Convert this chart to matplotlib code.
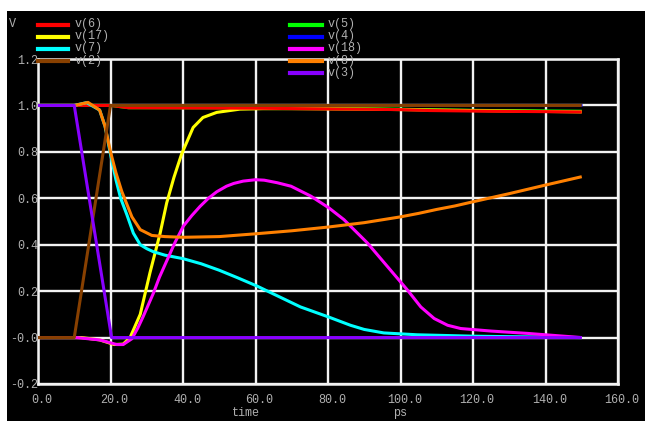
import matplotlib
matplotlib.use("Agg")
import matplotlib.pyplot as plt
from matplotlib.patches import Rectangle
from matplotlib.lines import Line2D
from matplotlib.transforms import ScaledTranslation

# ---------------- data ----------------
t_v6 = [0, 20, 25, 60, 80, 100, 108, 125, 150]
v_v6 = [1.0, 1.0, 0.99, 0.988, 0.985, 0.982, 0.978, 0.975, 0.972]

t_v5 = [0, 20, 25, 60, 80, 100, 108, 125, 150]
v_v5 = [1.0, 1.0, 0.99, 0.989, 0.987, 0.984, 0.981, 0.978, 0.975]

t_v4 = [0, 150]
v_v4 = [1.0, 1.0]

t_v17 = [0, 12, 17, 21, 23.5, 25.4, 28.2, 30.9, 33.7, 35.5, 37.5, 39.6, 42.8,
         45.5, 49.3, 55.7, 62, 70, 90, 110, 150]
v_v17 = [0.0, 0.0, -0.01, -0.03, -0.028, 0.0, 0.1, 0.28, 0.45, 0.58, 0.69, 0.79,
         0.905, 0.948, 0.97, 0.984, 0.986, 0.986, 0.984, 0.98, 0.972]

t_v7 = [0, 10, 13.4, 17, 18.5, 20, 21.5, 22.8, 24.5, 26.3, 28.2, 30, 31.8, 35,
        40, 45, 50, 55, 60.4, 66, 72.4, 80.1, 86.2, 90, 95.4, 104.6, 120, 150]
v_v7 = [1.0, 1.0, 1.012, 0.98, 0.91, 0.79, 0.68, 0.6, 0.53, 0.45, 0.40, 0.383,
        0.37, 0.355, 0.34, 0.318, 0.29, 0.258, 0.222, 0.18, 0.132, 0.089, 0.053,
        0.035, 0.02, 0.012, 0.006, 0.0]

t_v2 = [0, 10, 20, 150]
v_v2 = [0.0, 0.0, 1.0, 1.0]

t_v18 = [0, 10.6, 17, 21.7, 23.5, 25.9, 27.5, 29, 31.8, 33.5, 35.5, 37.8, 40.1,
         42.4, 44.7, 47, 49.3, 52, 54, 56.6, 60, 62.4, 66, 69.8, 75.3, 80.3,
         84.4, 90.9, 96.4, 101.9, 105.6, 109.3, 113, 116.6, 125, 135, 145, 150]
v_v18 = [0.0, 0.0, -0.01, -0.03, -0.03, -0.005, 0.04, 0.09, 0.19, 0.26, 0.33,
         0.41, 0.48, 0.525, 0.565, 0.6, 0.628, 0.652, 0.664, 0.674, 0.68, 0.678,
         0.667, 0.652, 0.609, 0.558, 0.508, 0.407, 0.306, 0.205, 0.132, 0.082,
         0.053, 0.039, 0.028, 0.018, 0.006, 0.0]

t_v8 = [0, 10, 13.8, 17, 18.5, 20, 21.5, 23.1, 25.9, 28.2, 31.4, 35, 40, 50, 60,
        70, 80, 90, 100, 105, 110, 115, 120, 130, 140, 150]
v_v8 = [1.0, 1.0, 1.013, 0.98, 0.91, 0.80, 0.71, 0.63, 0.52, 0.465, 0.44, 0.435,
        0.432, 0.435, 0.447, 0.46, 0.476, 0.495, 0.52, 0.535, 0.552, 0.567,
        0.585, 0.62, 0.657, 0.693]

t_v3 = [0, 10, 20.3, 150]
v_v3 = [1.0, 1.0, 0.0, 0.0]

x_ticks = [0, 20, 40, 60, 80, 100, 120, 140, 160]
x_labels = ["0.0", "20.0", "40.0", "60.0", "80.0", "100.0", "120.0", "140.0", "160.0"]
y_ticks = [-0.2, 0.0, 0.2, 0.4, 0.6, 0.8, 1.0, 1.2]
y_labels = ["-0.2", "-0.0", "0.2", "0.4", "0.6", "0.8", "1.0", "1.2"]

# ---------------- figure ----------------
W, H = 645, 421
fig = plt.figure(figsize=(W / 100, H / 100), dpi=100)
fig.patch.set_facecolor("white")
fig.patches.append(Rectangle((7 / W, 0), (W - 7) / W, (H - 11) / H,
                             transform=fig.transFigure, facecolor="black",
                             edgecolor="none", zorder=-10))

ax_l, ax_r, ax_t, ax_b = 38, 618, 59, 384
ax = fig.add_axes([ax_l / W, (H - ax_b) / H, (ax_r - ax_l) / W, (ax_b - ax_t) / H])
ax.set_facecolor("black")
ax.set_xlim(0, 160)
ax.set_ylim(-0.2, 1.2)

txt_col = "#b0b0b0"
font = "Liberation Mono"
fs = 8.5

ax.set_xticks(x_ticks)
ax.set_xticklabels(x_labels)
ax.set_yticks(y_ticks)
ax.set_yticklabels(y_labels)
ax.tick_params(length=0, colors=txt_col, labelsize=fs)
ax.tick_params(axis="y", pad=0)
ax.tick_params(axis="x", pad=7)
for lab in ax.get_xticklabels() + ax.get_yticklabels():
    lab.set_fontfamily(font)
for lab in ax.get_xticklabels():
    lab.set_transform(lab.get_transform() + ScaledTranslation(4 / 100, 0, fig.dpi_scale_trans))

ax.grid(True, color="#f2f2f2", linewidth=1.7, zorder=0)
ax.set_axisbelow(True)
for s in ax.spines.values():
    s.set_color("#f2f2f2")
    s.set_linewidth(1.8)

series = [
    ("v(4)", t_v4, v_v4, "#0000ff"),
    ("v(5)", t_v5, v_v5, "#00ff00"),
    ("v(17)", t_v17, v_v17, "#ffff00"),
    ("v(6)", t_v6, v_v6, "#ff0000"),
    ("v(7)", t_v7, v_v7, "#00ffff"),
    ("v(18)", t_v18, v_v18, "#ff00ff"),
    ("v(8)", t_v8, v_v8, "#ff8000"),
    ("v(2)", t_v2, v_v2, "#884000"),
    ("v(3)", t_v3, v_v3, "#8800ff"),
]
lw = 2.2
for i, (name, t, v, c) in enumerate(series):
    ax.plot(t, v, color=c, linewidth=lw, zorder=3 + i, solid_capstyle="butt",
            solid_joinstyle="round")

colors = {name: c for name, _, _, c in series}

# legend (manually laid out, two columns)
left_col = ["v(6)", "v(17)", "v(7)", "v(2)"]
right_col = ["v(5)", "v(4)", "v(18)", "v(8)", "v(3)"]
row_y = [24.5, 36.5, 48.5, 61, 73]


def legend_col(names, x0, x1, xt):
    for name, yy in zip(names, row_y):
        fig.text(xt / W, 1 - yy / H, name, color=txt_col, fontsize=fs,
                 family=font, va="center", ha="left", zorder=20)
        fig.add_artist(Line2D([x0 / W, x1 / W], [1 - yy / H, 1 - yy / H],
                              color=colors[name], linewidth=3, zorder=21,
                              transform=fig.transFigure))


legend_col(left_col, 38, 68, 75)
legend_col(right_col, 290, 322, 328)

fig.text(12 / W, 1 - 24 / H, "V", color=txt_col, fontsize=fs, family=font,
         va="center", ha="center")
fig.text(246 / W, 1 - 413 / H, "time", color=txt_col, fontsize=fs, family=font,
         va="center", ha="center")
fig.text(400 / W, 1 - 413 / H, "ps", color=txt_col, fontsize=fs, family=font,
         va="center", ha="center")

fig.savefig("out.png", dpi=100, facecolor="white")
